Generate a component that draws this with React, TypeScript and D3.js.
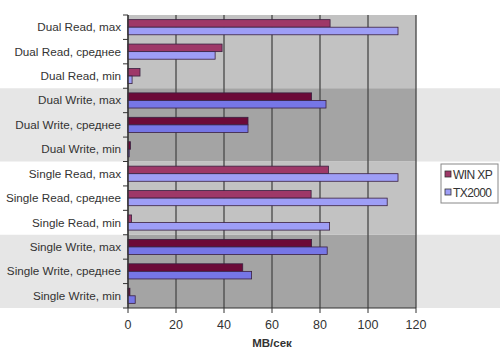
import React from "react";
import * as d3 from "d3";

const categories = [
  "Dual Read, max",
  "Dual Read, среднее",
  "Dual Read, min",
  "Dual Write, max",
  "Dual Write, среднее",
  "Dual Write, min",
  "Single Read, max",
  "Single Read, среднее",
  "Single Read, min",
  "Single Write, max",
  "Single Write, среднее",
  "Single Write, min",
];
const winXP = [84.2, 39.2, 5, 76.5, 50, 1, 83.5, 76.3, 1.5, 76.5, 47.8, 0.8];
const tx2000 = [112.5, 36.3, 1.7, 82.5, 50, 0.5, 112.5, 108, 84, 83, 51.5, 3];
const seriesNames = ["WIN XP", "TX2000"];
const xTicks = [0, 20, 40, 60, 80, 100, 120];
const axisTitle = "MB/сек";
const groups = [
  { start: 0, end: 2, shaded: false },
  { start: 3, end: 5, shaded: true },
  { start: 6, end: 8, shaded: false },
  { start: 9, end: 11, shaded: true },
];

const W = 500;
const H = 355;
const left = 128;
const right = 416;
const top = 15;
const bottom = 308;
const FONT = "'Liberation Sans', Arial, sans-serif";

export default function App() {
  const x = d3.scaleLinear().domain([0, 120]).range([left, right]);
  const y = d3.scaleBand().domain(categories).range([top, bottom]).paddingInner(0.38).paddingOuter(0.19);
  const yRow = d3.scaleBand().domain(categories).range([top, bottom]);
  const sub = d3.scaleBand().domain(seriesNames).range([0, y.bandwidth()]);

  const shadedOf = (i: number) => groups.find((g) => i >= g.start && i <= g.end)!.shaded;
  const colors = {
    light: ["#9e3868", "#9e9ef6"],
    dark: ["#6c0a38", "#7676e6"],
  };

  return (
    <svg width={W} height={H} style={{ position: "absolute", left: 0, top: 0, background: "#fff" }}>
      <rect x={0} y={0} width={W} height={H} fill="#fff" />
      {groups.map((g, gi) => {
        const y0 = yRow(categories[g.start])!;
        const y1 = yRow(categories[g.end])! + yRow.bandwidth();
        return (
          <g key={gi}>
            {g.shaded && <rect x={0} y={y0} width={W} height={y1 - y0} fill="#e6e6e6" />}
            <rect x={left} y={y0} width={right - left} height={y1 - y0} fill={g.shaded ? "#a4a4a4" : "#c2c2c2"} />
          </g>
        );
      })}
      {xTicks.map((t) => (
        <line key={t} x1={x(t)} x2={x(t)} y1={top} y2={bottom} stroke="#505050" strokeWidth={1.4} />
      ))}
      {categories.map((c, i) => {
        const shaded = shadedOf(i);
        const pal = shaded ? colors.dark : colors.light;
        const vals = [winXP[i], tx2000[i]];
        return (
          <g key={c}>
            {vals.map((v, si) => (
              <rect
                key={si}
                x={x(0)}
                y={y(c)! + sub(seriesNames[si])!}
                width={x(v) - x(0)}
                height={sub.bandwidth()}
                fill={pal[si]}
                stroke="#3a2040"
                strokeWidth={0.8}
              />
            ))}
          </g>
        );
      })}
      <line x1={left} x2={left} y1={top} y2={bottom} stroke="#333" strokeWidth={1.2} />
      <line x1={left} x2={right} y1={bottom} y2={bottom} stroke="#333" strokeWidth={1.2} />
      {d3.range(categories.length + 1).map((i) => {
        const yy = top + i * yRow.step();
        return <line key={i} x1={left - 5} x2={left} y1={yy} y2={yy} stroke="#333" strokeWidth={1} />;
      })}
      {xTicks.map((t) => (
        <g key={t}>
          <line x1={x(t)} x2={x(t)} y1={bottom} y2={bottom + 5} stroke="#333" strokeWidth={1} />
          <text x={x(t)} y={bottom + 21} textAnchor="middle" fontFamily={FONT} fontSize={12.5} fill="#333">
            {t}
          </text>
        </g>
      ))}
      {categories.map((c) => (
        <text
          key={c}
          x={left - 7}
          y={yRow(c)! + yRow.bandwidth() / 2 + 4}
          textAnchor="end"
          fontFamily={FONT}
          fontSize={11.7}
          fill="#333"
        >
          {c}
        </text>
      ))}
      <text x={(left + right) / 2} y={347} textAnchor="middle" fontFamily={FONT} fontSize={11.5} fontWeight="bold" fill="#333">
        {axisTitle}
      </text>
      <rect x={441} y={164} width={57} height={39} fill="#fff" stroke="#888" strokeWidth={1} />
      {seriesNames.map((s, si) => (
        <g key={s}>
          <rect x={445} y={171 + si * 18} width={6} height={6} fill={colors.light[si]} stroke="#333" strokeWidth={0.8} />
          <text x={453} y={178.5 + si * 18} fontFamily={FONT} fontSize={12} fill="#333" letterSpacing={-0.6}>
            {s}
          </text>
        </g>
      ))}
    </svg>
  );
}
